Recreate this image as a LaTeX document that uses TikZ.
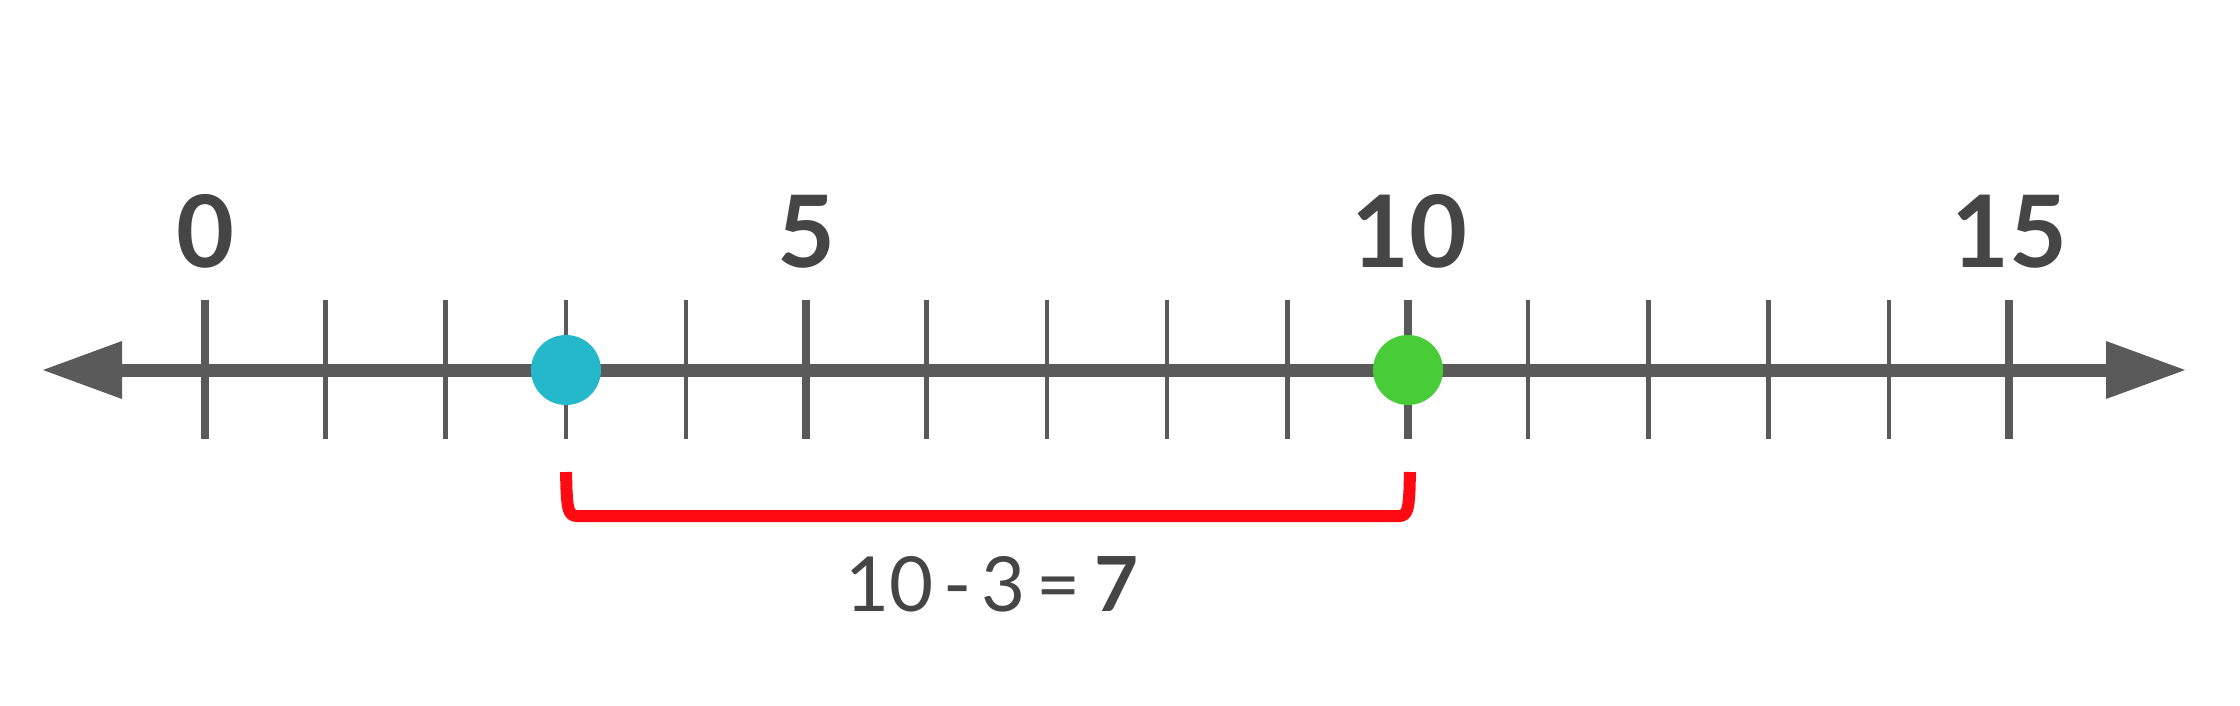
\documentclass[tikz,border=0pt]{standalone}
\usepackage{fontspec}
\setmainfont{Lato}
\definecolor{axisgray}{HTML}{5A5A5A}
\definecolor{txtgray}{HTML}{454545}
\definecolor{ptblue}{HTML}{25B8CB}
\definecolor{ptgreen}{HTML}{48CC38}
\definecolor{brred}{HTML}{FF0A12}
\begin{document}
\begin{tikzpicture}[x=1pt,y=-1pt,
  axisline/.style={draw=axisgray,line width=13pt},
  arrowhead/.style={fill=axisgray,draw=none},
  majortick/.style={draw=axisgray,line width=8pt},
  minortick/.style={draw=axisgray,line width=4.5pt},
  numlabel/.style={text=txtgray,inner sep=0pt,anchor=base,font=\fontsize{100}{110}\selectfont\bfseries},
  eqlabel/.style={text=txtgray,inner sep=0pt,anchor=base,font=\fontsize{76}{86}\selectfont},
  dot/.style={circle,minimum size=70pt,inner sep=0pt,draw=none},
  bracket/.style={draw=brred,line width=12pt}]
\useasboundingbox (0,0) rectangle (2240,706);
% axis
\coordinate (L) at (122,370);
\coordinate (R) at (2106,370);
\draw[axisline] (L) -- (R);
\fill[arrowhead] (43,370) -- (122,341) -- (122,399) -- cycle;
\fill[arrowhead] (2185,370) -- (2106,341) -- (2106,399) -- cycle;
% ticks
\foreach \i in {0,...,15}{
  \pgfmathsetmacro{\xx}{205+\i*120.27}
  \pgfmathtruncatemacro{\m}{mod(\i,5)}
  \ifnum\m=0
    \draw[majortick] (\xx,300) -- (\xx,439);
  \else
    \draw[minortick] (\xx,300) -- (\xx,439);
  \fi
}
% labels
\node[numlabel] (n0) at (205,267) {0};
\node[numlabel] (n5) at (806.35,267) {5};
\node[numlabel] (n10) at (1409.7,267) {10};
\node[numlabel] (n15) at (2009,267) {15};
% points
\node[dot,fill=ptblue] (p3) at (566,370) {};
\node[dot,fill=ptgreen] (p10) at (1408,370) {};
% bracket
\coordinate (bl) at (566,472);
\coordinate (br) at (1410,472);
\draw[bracket] (bl) -- (566.5,490) .. controls (567.5,507) and (568,516) .. (577,516)
  -- (1399,516) .. controls (1408,516) and (1408.5,507) .. (1409.5,490) -- (br);
% equation
\node[eqlabel] (eq) at (992,611) {10\hskip10pt-\hskip10pt3\hskip11pt=\hskip14pt\textbf{7}};
\end{tikzpicture}
\end{document}
